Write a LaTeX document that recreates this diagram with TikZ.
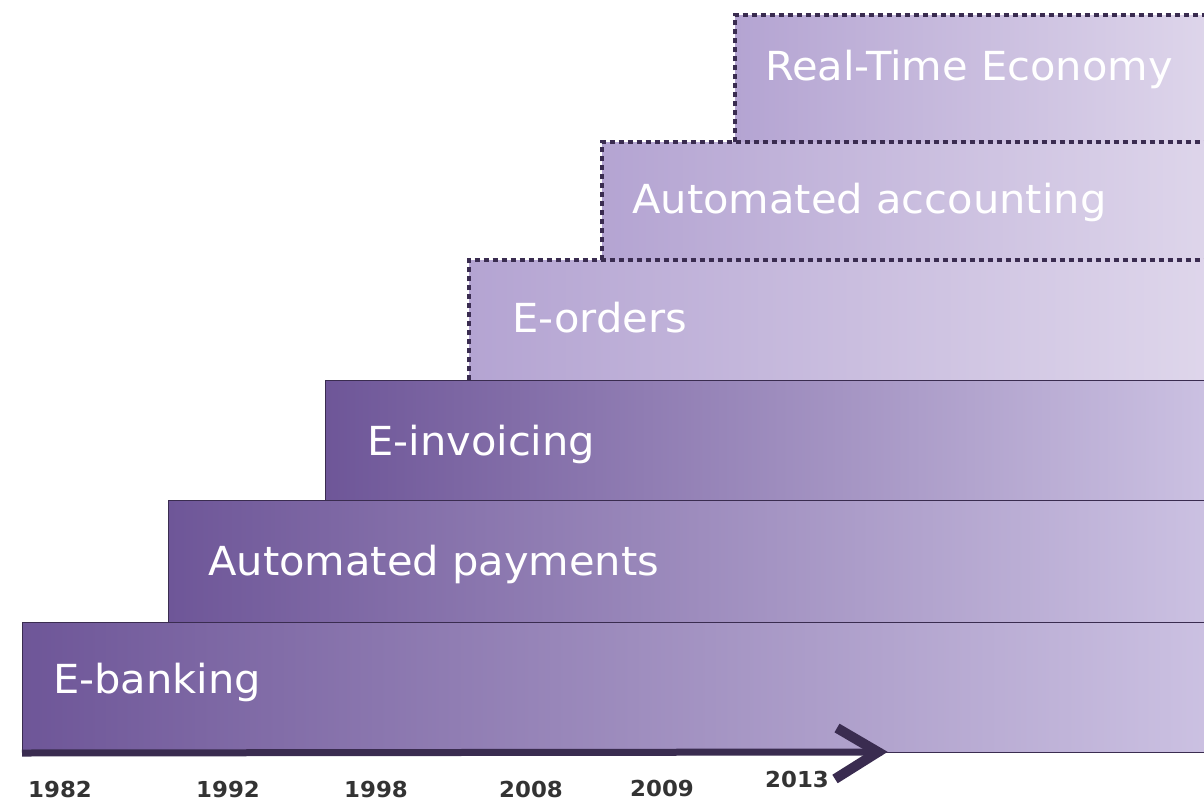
\documentclass[tikz,border=0pt]{standalone}
\usepackage{fontspec}
\newfontfamily\boxfont[FakeStretch=1.04]{DejaVu Sans}
\usetikzlibrary{positioning}

\definecolor{pdark}{RGB}{110,86,152}
\definecolor{pmid}{RGB}{162,136,202}
\definecolor{plight}{RGB}{206,196,228}
\definecolor{qdark}{RGB}{180,164,210}
\definecolor{qlight}{RGB}{224,216,236}
\definecolor{edge}{RGB}{58,44,80}

\begin{document}
\begin{tikzpicture}[x=1pt, y=-1pt,
    donebox/.style={draw=edge, line width=1pt, left color=pdark, middle color=pmid, right color=plight,
        minimum height=120pt, anchor=north west, inner sep=0pt},
    planbox/.style={left color=qdark, right color=qlight, minimum height=120pt, anchor=north west, inner sep=0pt},
    border/.style={draw=edge, line width=4.5pt, dash pattern=on 5pt off 4pt},
    lbl/.style={text=white, font=\boxfont\fontsize{40}{46}\selectfont, anchor=base west, inner sep=0pt},
    year/.style={text=black!80, font=\boxfont\bfseries\fontsize{22}{26}\selectfont, inner sep=0pt},
    axis/.style={draw=edge, line width=7pt},
    chevron/.style={draw=edge, line width=10pt, line join=miter}]
    \useasboundingbox (0,0) rectangle (1204,803);
    \clip (0,0) rectangle (1204,803);

    % Steps
    \node[planbox, minimum width=500pt, minimum height=127pt] (rte) at (735,15) {};
    \node[planbox, minimum width=640pt, minimum height=118pt] (acc) at (602,142) {};
    \node[planbox, minimum width=770pt] (ord) at (469,260) {};
    \node[donebox, minimum width=910pt] (inv) at (325,380) {};
    \node[donebox, minimum width=1070pt, minimum height=122pt] (pay) at (168,500) {};
    \node[donebox, minimum width=1220pt, minimum height=130pt] (bank) at (22,622) {};

    % Planned steps
    \draw[border] (rte.south west) |- (rte.north east);
    \draw[border] (acc.south west) |- (acc.north east);
    \draw[border] (ord.south west) |- (ord.north east);

    % Labels
    \node[lbl] (trte) at ([xshift=30pt, yshift=-65pt]rte.north west) {Real-Time Economy};
    \node[lbl] (tacc) at ([xshift=30pt, yshift=-71pt]acc.north west) {Automated accounting};
    \node[lbl] (tord) at ([xshift=43pt, yshift=-72pt]ord.north west) {E-orders};
    \node[lbl] (tinv) at ([xshift=42pt, yshift=-75pt]inv.north west) {E-invoicing};
    \node[lbl] (tpay) at ([xshift=40pt, yshift=-75pt]pay.north west) {Automated payments};
    \node[lbl] (tbank) at ([xshift=31pt, yshift=-71pt]bank.north west) {E-banking};

    % Time axis
    \coordinate (tip) at (890,752);
    \draw[axis] (bank.south west) -- ([xshift=-8pt]tip);
    \draw[chevron] ([shift={(-53,-24)}]tip) -- ([xshift=-12pt]tip) -- ([shift={(-55,27)}]tip);

    % Years
    \node[year] (y1982) at (60,789) {1982};
    \node[year] (y1992) at (228,789) {1992};
    \node[year] (y1998) at (376,789) {1998};
    \node[year] (y2008) at (531,789) {2008};
    \node[year] (y2009) at (662,788) {2009};
    \node[year] (y2013) at (797,779) {2013};
\end{tikzpicture}
\end{document}
